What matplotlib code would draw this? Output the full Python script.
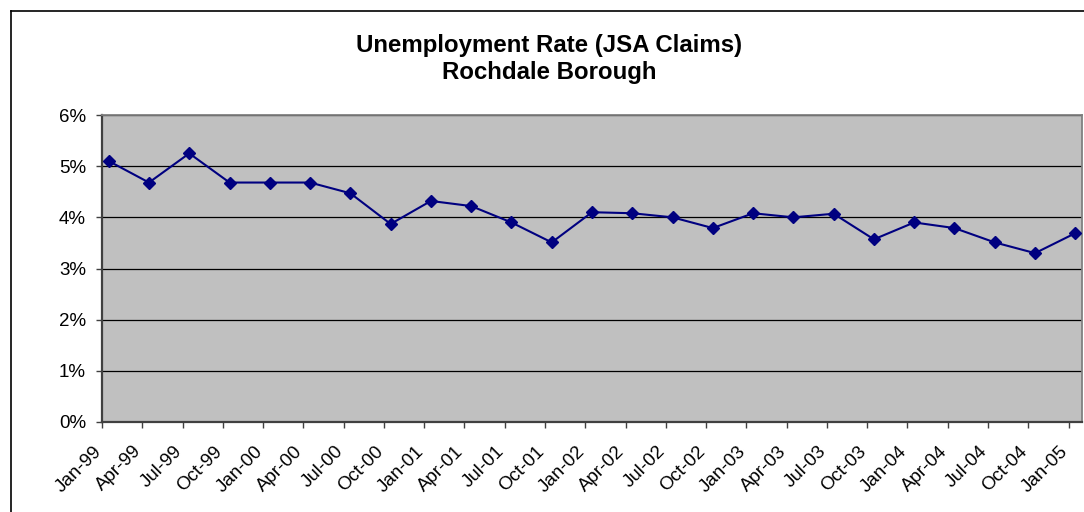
import numpy as np
import matplotlib.pyplot as plt
from matplotlib.lines import Line2D

# Quarterly JSA claimant rate, Rochdale Borough (%)
quarters = ['Jan-99', 'Apr-99', 'Jul-99', 'Oct-99',
            'Jan-00', 'Apr-00', 'Jul-00', 'Oct-00',
            'Jan-01', 'Apr-01', 'Jul-01', 'Oct-01',
            'Jan-02', 'Apr-02', 'Jul-02', 'Oct-02',
            'Jan-03', 'Apr-03', 'Jul-03', 'Oct-03',
            'Jan-04', 'Apr-04', 'Jul-04', 'Oct-04',
            'Jan-05']
rate = [5.10, 4.68, 5.25, 4.68,
        4.68, 4.68, 4.47, 3.87,
        4.32, 4.22, 3.90, 3.51,
        4.10, 4.08, 4.00, 3.79,
        4.08, 4.00, 4.07, 3.57,
        3.90, 3.79, 3.51, 3.30,
        3.69]
pct_ticks = [0, 1, 2, 3, 4, 5, 6]

plt.rcParams['font.family'] = ['Liberation Sans', 'DejaVu Sans']

# month offset from Jan-99; each point sits in the middle of its month
months = np.arange(len(quarters)) * 3

fig = plt.figure(figsize=(10.84, 5.12), dpi=100)
ax = fig.add_axes([102 / 1084, 90 / 512, 980 / 1084, 307 / 512])
ax.set_facecolor('#C0C0C0')

ax.plot(months + 0.5, rate, color='#000080', lw=1.5,
        marker='D', ms=6, zorder=3, clip_on=False)

ax.set_xlim(0, months[-1] + 1)
ax.set_ylim(0, 6)
ax.set_yticks(pct_ticks)
ax.set_yticklabels([f'{p}%' for p in pct_ticks])
ax.yaxis.grid(True, color='black', lw=0.9)
ax.set_axisbelow(True)

ax.set_xticks(months)
ax.set_xticklabels(quarters, rotation=45, ha='right', va='baseline',
                   rotation_mode='anchor')

ax.tick_params(axis='y', length=4.5, width=1, color='#404040',
               labelsize=13.5, pad=7)
ax.tick_params(axis='x', length=4.5, width=1, color='#404040',
               labelsize=13.5, pad=17)

for side in ['left', 'bottom']:
    ax.spines[side].set_color('#404040')
    ax.spines[side].set_linewidth(1.6)
for side in ['top', 'right']:
    ax.spines[side].set_color('#808080')
    ax.spines[side].set_linewidth(1.3)

fig.text(549 / 1084, 1 - 59 / 512,
         'Unemployment Rate (JSA Claims)\nRochdale Borough',
         ha='center', va='center', fontsize=17.3, fontweight='bold',
         linespacing=1.25)

# chart frame (left and top edges)
x0, y0 = 11 / 1084, 1 - 11 / 512
fig.add_artist(Line2D([x0, x0], [0, y0], color='black', lw=1.2))
fig.add_artist(Line2D([x0, 1], [y0, y0], color='black', lw=1.2))

fig.savefig('out.png', dpi=100)
